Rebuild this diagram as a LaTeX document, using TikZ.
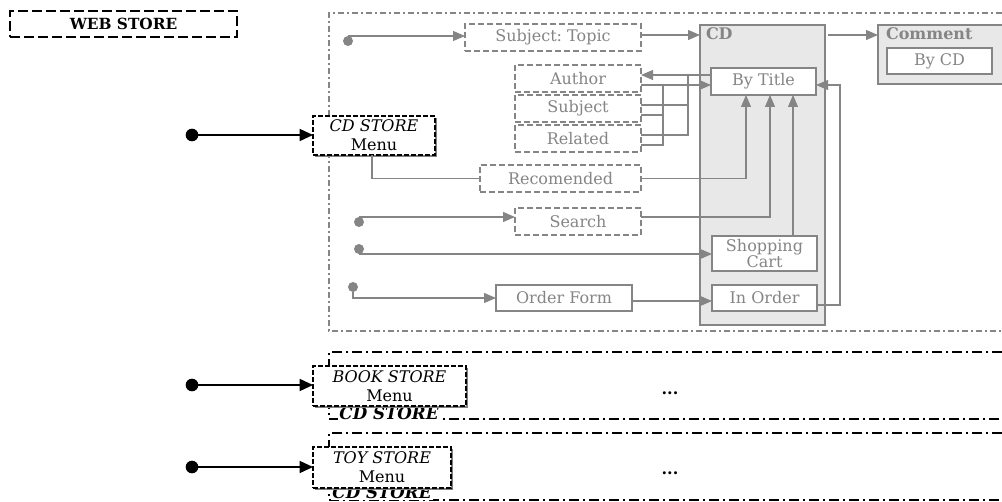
\documentclass[tikz,border=0pt]{standalone}
\usepackage{fontspec}
\setmainfont{DejaVu Serif}
\usetikzlibrary{arrows.meta,calc,shadows}
\definecolor{gline}{HTML}{858585}
\definecolor{gtext}{HTML}{858585}
\definecolor{gfill}{HTML}{E8E8E8}
\tikzset{
  every node/.append style={font=\fontsize{12}{14}\selectfont, inner sep=0pt, outer sep=0pt},
  sz/.style 2 args={minimum width=#1*0.75pt, minimum height=#2*0.75pt},
  gbox/.style={draw=gline, line width=1.1pt, text=gtext, fill=white, dash pattern=on 4.5pt off 2.25pt},
  sbox/.style={draw=gline, line width=1.1pt, text=gtext, fill=white},
  cdbox/.style={draw=gline, line width=1.1pt, fill=gfill},
  glabel/.style={text=gtext, font=\fontsize{12}{14}\selectfont\bfseries},
  menubox/.style={draw=black, line width=0.9pt, fill=white, align=center, dash pattern=on 3.75pt off 1.5pt,
     drop shadow={shadow xshift=1.8pt, shadow yshift=-1.8pt, fill=gray, opacity=1}},
  gc/.style={draw=gline, line width=0.8pt},
  garr/.style={gc, -{Triangle[length=9pt,width=7.5pt]}},
  barr/.style={draw=black, line width=1.1pt, -{Triangle[length=10pt,width=9pt]}},
  gdot/.style={circle, fill=gline, minimum size=7.5pt},
  bdot/.style={circle, fill=black, minimum size=9.5pt},
  gdashdot/.style={draw=gline, line width=1.2pt, dash pattern=on 4.5pt off 2.25pt on 1.5pt off 2.25pt},
  bdashdot/.style={draw=black, line width=1.2pt, dash pattern=on 7.5pt off 3pt on 1.5pt off 3pt},
  storelabel/.style={font=\fontsize{12.5}{13}\selectfont\bfseries\itshape, fill=white, inner sep=1pt}
}
\begin{document}
\begin{tikzpicture}[x=0.75pt,y=-0.75pt]
\useasboundingbox (0,0) rectangle (1002,502);

% WEB STORE
\node[draw=black, line width=0.9pt, dash pattern=on 7.5pt off 3pt, sz={227}{26}, font=\fontsize{11.5}{12}\selectfont\bfseries] (web) at (123.5,24) {WEB STORE};

% CD STORE container
\draw[gdashdot] (1002,13) -- (329,13) -- (329,331) -- (1002,331);

% CD column and comment
\node[cdbox, sz={125}{300}] (cd) at (762.5,175) {};
\node[glabel, anchor=north west] (cdlbl) at (706,28) {CD};
\node[cdbox, sz={140}{59}, anchor=north west] (comment) at (878,25) {};
\node[glabel, anchor=north west] (commentlbl) at (886,28) {Comment};
\node[sbox, sz={105}{26}] (bycd) at (939.5,61) {By CD};

% boxes
\node[gbox, sz={176}{27}] (topic) at (553,37.5) {Subject:~Topic};
\node[sbox, sz={105}{27}] (bytitle) at (763.5,81.5) {By Title};
\node[gbox, sz={126}{27}] (author) at (578,78.5) {Author};
\node[gbox, sz={126}{27}] (subject) at (578,108.5) {Subject};
\node[gbox, sz={126}{27}] (related) at (578,138.5) {Related};
\node[gbox, sz={161}{27}] (recom) at (560.5,178.5) {Recomended};
\node[gbox, sz={126}{27}] (search) at (578,221.5) {Search};
\node[sbox, sz={136}{26}] (orderform) at (564,298) {Order Form};
\node[sbox, sz={105}{35}, align=center, font=\fontsize{12}{12.5}\selectfont] (cart) at (764.5,253.5) {Shopping\\Cart};
\node[sbox, sz={105}{26}] (inorder) at (764.5,298) {In Order};

% CD STORE menu
\node[menubox, sz={122}{39}] (cdmenu) at (374,135.5) {\textit{CD STORE}\\Menu};

% dots
\node[gdot] (d1) at (348,41) {};
\node[gdot] (d2) at (359,222) {};
\node[gdot] (d3) at (359,249) {};
\node[gdot] (d4) at (353,287) {};

% connectors
\draw[garr] (d1.north) -- (d1.north -| topic.west);
\draw[garr] (topic.east |- 0,35) -- (cd.west |- 0,35);
\draw[garr] ($(cd.east |- 0,35)+(3,0)$) -- (comment.west |- 0,35);

\draw[garr] (bytitle.west |- 0,75) -- (author.east |- 0,75);
\coordinate (j1) at (688,75);
\draw[gc] (j1) |- (related.east |- 0,135);
\draw[gc] (j1 |- 0,105) -- (subject.east |- 0,105);

\draw[garr] (author.east |- 0,85) -- (bytitle.west |- 0,85);
\coordinate (j2) at (663,85);
\draw[gc] (j2) |- (related.east |- 0,145);
\draw[gc] (j2 |- 0,115) -- (subject.east |- 0,115);

\draw[gc] (cdmenu.south -| 372,0) |- (recom.west);
\draw[garr] (recom.east) -| (bytitle.south -| 746,0);
\draw[garr] (d2.north) -- (d2.north -| search.west);
\draw[garr] (search.east |- d2.north) -| (bytitle.south -| 770,0);
\draw[garr] (d3.south) -- (d3.south -| cart.west);
\draw[garr] (cart.north -| 793,0) -- (bytitle.south -| 793,0);
\draw[garr] (d4.south) |- (orderform.west);
\draw[garr] (orderform.east |- 0,301) -- (inorder.west |- 0,301);
\draw[garr] (inorder.east |- 0,305) -| (840,85) -- (bytitle.east |- 0,85);

% black entry arrows
\node[bdot] (s1) at (192,135) {};
\draw[barr] (s1) -- (cdmenu.west |- s1);

% BOOK STORE
\draw[bdashdot] (1002,352) -- (329,352) -- (329,419) -- (1002,419);
\node[storelabel] (booklbl) at (389,413) {CD STORE};
\node[menubox, sz={153}{40}] (bookmenu) at (389.5,386) {\textit{BOOK STORE}\\Menu};
\node[bdot] (s2) at (192,385) {};
\draw[barr] (s2) -- (bookmenu.west |- s2);
\node[font=\fontsize{12}{12}\selectfont\bfseries] (e1) at (670,393) {...};

% TOY STORE
\draw[bdashdot] (1002,433) -- (329,433) -- (329,500) -- (1002,500);
\node[storelabel] (toylbl) at (382,492) {CD STORE};
\node[menubox, sz={138}{41}] (toymenu) at (382,467.5) {\textit{TOY STORE}\\Menu};
\node[bdot] (s3) at (192,467) {};
\draw[barr] (s3) -- (toymenu.west |- s3);
\node[font=\fontsize{12}{12}\selectfont\bfseries] (e2) at (670,473) {...};
\end{tikzpicture}
\end{document}
